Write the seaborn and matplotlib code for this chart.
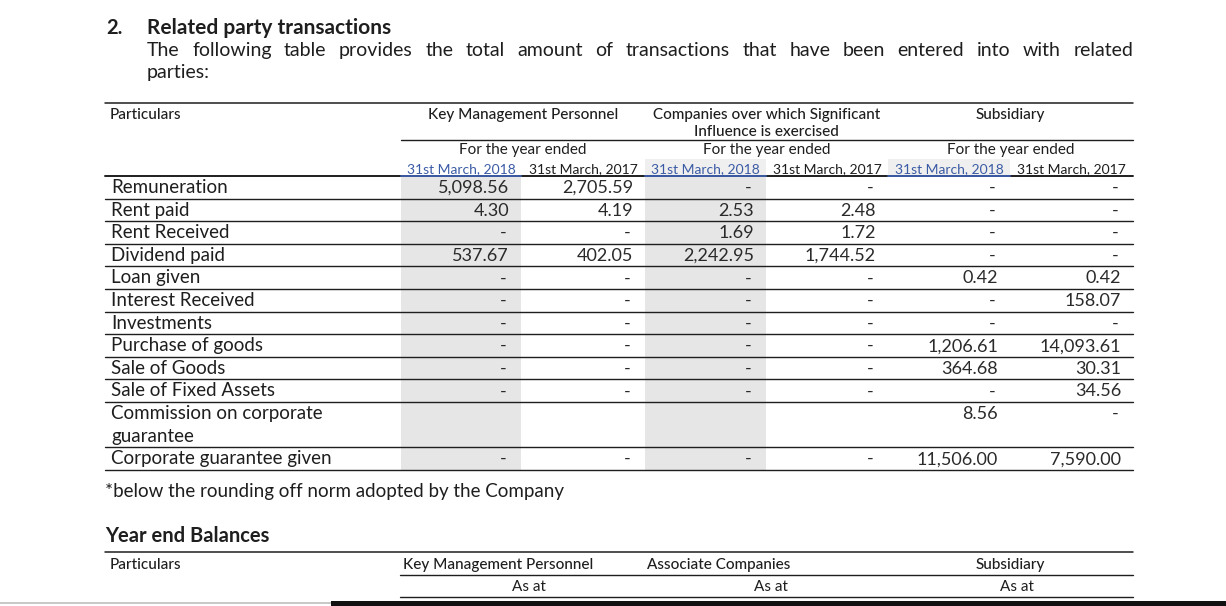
import matplotlib
matplotlib.use("Agg")
import matplotlib.pyplot as plt
import seaborn as sns

# Table data (0 -> "-", None -> blank)
particulars = ["Remuneration", "Rent paid", "Rent Received", "Dividend paid", "Loan given",
               "Interest Received", "Investments", "Purchase of goods", "Sale of Goods",
               "Sale of Fixed Assets", "Commission on corporate\nguarantee", "Corporate guarantee given"]
kmp_2018 = [5098.56, 4.30, 0, 537.67, 0, 0, 0, 0, 0, 0, None, 0]
kmp_2017 = [2705.59, 4.19, 0, 402.05, 0, 0, 0, 0, 0, 0, None, 0]
cos_2018 = [0, 2.53, 1.69, 2242.95, 0, 0, 0, 0, 0, 0, None, 0]
cos_2017 = [0, 2.48, 1.72, 1744.52, 0, 0, 0, 0, 0, 0, None, 0]
sub_2018 = [0, 0, 0, 0, 0.42, 0, 0, 1206.61, 364.68, 0, 8.56, 11506.00]
sub_2017 = [0, 0, 0, 0, 0.42, 158.07, 0, 14093.61, 30.31, 34.56, 0, 7590.00]

groups = ["Key Management Personnel", "Companies over which Significant\nInfluence is exercised", "Subsidiary"]
year_labels = ["31st March, 2018", "31st March, 2017"]
balance_groups = ["Key Management Personnel", "Associate Companies", "Subsidiary"]

title = "Related party transactions"
intro = "The following table provides the total amount of transactions that have been entered into with related"
intro_end = "parties:"
footnote = "*below the rounding off norm adopted by the Company"

sns.set_theme(style="white")
plt.rcParams['font.family'] = ['Lato', 'DejaVu Sans']

W, H = 1226, 606
fig = plt.figure(figsize=(W / 100, H / 100), dpi=100)
ax = fig.add_axes([0, 0, 1, 1])
ax.set_xlim(0, W)
ax.set_ylim(H, 0)
ax.axis("off")

ink = "#1e1e1e"
num_ink = "#2a2a2a"
blue = "#3b5ba5"
shade = "#e6e6e6"
L, R = 105, 1133

# heading
ax.text(106, 34, "2.", fontsize=14.5, fontweight="bold", color=ink, va="baseline")
ax.text(147, 34, title, fontsize=15, fontweight="bold", color=ink, va="baseline")

# justified intro line
renderer = fig.canvas.get_renderer()
words = intro.split()
arts = [ax.text(0, 56, w, fontsize=14, color=ink, va="baseline") for w in words]
widths = [a.get_window_extent(renderer).width for a in arts]
gap = (R - 147 - sum(widths)) / (len(words) - 1)
x = 147
for a, w in zip(arts, widths):
    a.set_x(x)
    x += w + gap
ax.text(147, 78, intro_end, fontsize=14, color=ink, va="baseline")

# column layout
col_left = [401, 521, 645, 766, 888, 1010]
col_right = [521, 645, 766, 888, 1010, 1133]
cols = [kmp_2018, kmp_2017, cos_2018, cos_2017, sub_2018, sub_2017]

# row geometry
row_h = 22.6
tops = [176.0]
for p in particulars:
    n = p.count("\n") + 1
    tops.append(tops[-1] + row_h * n)
bottom = tops[-1]

# shaded 2018 columns
for i in (0, 2):
    ax.fill_between([col_left[i], col_right[i]], tops[0], bottom, color=shade, lw=0, zorder=0)
for i in (2, 4):
    ax.fill_between([col_left[i], col_right[i]], 159, 176, color="#efefef", lw=0, zorder=0)

# header
hdr = dict(fontsize=11, color=ink, va="baseline", fontweight="medium")
ax.plot([L, R], [103, 103], color=ink, lw=1.1)
ax.text(110, 119, "Particulars", **hdr)
for g, c in zip(groups, (0, 2, 4)):
    cx = (col_left[c] + col_right[c + 1]) / 2
    ax.text(cx, 119, g.split("\n")[0], ha="center", **hdr)
    if "\n" in g:
        ax.text(cx, 136, g.split("\n")[1], ha="center", **hdr)
    ax.text(cx, 154, "For the year ended", fontsize=11, color=ink, va="baseline", ha="center")
    for k in range(2):
        cc = c + k
        ax.text((col_left[cc] + col_right[cc]) / 2, 173, year_labels[k], fontsize=10,
                color=blue if k == 0 else ink, va="baseline", ha="center")
ax.plot([col_left[0], R], [139.5, 139.5], color=ink, lw=1)
ax.plot([L, R], [176, 176], color=ink, lw=1.4)
for i in (0, 2, 4):
    ax.plot([col_left[i], col_right[i]], [176, 176], color=blue, lw=1.4)

# body rows
for r, p in enumerate(particulars):
    top = tops[r]
    for j, line in enumerate(p.split("\n")):
        ax.text(111, top + 17 + j * row_h, line, fontsize=13.5, color=ink, va="baseline")
    for c, vals in enumerate(cols):
        v = vals[r]
        if v is None:
            continue
        s = "-" if v == 0 else f"{v:,.2f}"
        ax.text(col_right[c] - (14 if v == 0 else 12), top + 17, s, fontsize=13, color=num_ink,
                va="baseline", ha="right")
    ax.plot([L, R], [tops[r + 1], tops[r + 1]], color=ink, lw=1)

ax.text(105, 497, footnote, fontsize=13.5, color=ink, va="baseline")

# year end balances header
ax.text(105, 542, "Year end Balances", fontsize=14.5, fontweight="bold", color=ink, va="baseline")
ax.plot([L, R], [552, 552], color=ink, lw=1.1)
ax.text(110, 569, "Particulars", **hdr)
ax.text(498, 569, balance_groups[0], ha="center", **hdr)
ax.text(647, 569, balance_groups[1], **hdr)
ax.text(1010, 569, balance_groups[2], ha="center", **hdr)
ax.plot([400, R], [575, 575], color=ink, lw=1)
for cx in (529, 771, 1017):
    ax.text(cx, 591, "As at", fontsize=11, color=ink, va="baseline", ha="center")
ax.plot([400, R], [597, 597], color=ink, lw=1)
ax.fill_between([0, W], 602, 604, color="#c8c8c8", lw=0)
ax.fill_between([331, W], 601, 606, color="#111111", lw=0)

fig.savefig("out.png", dpi=100)
